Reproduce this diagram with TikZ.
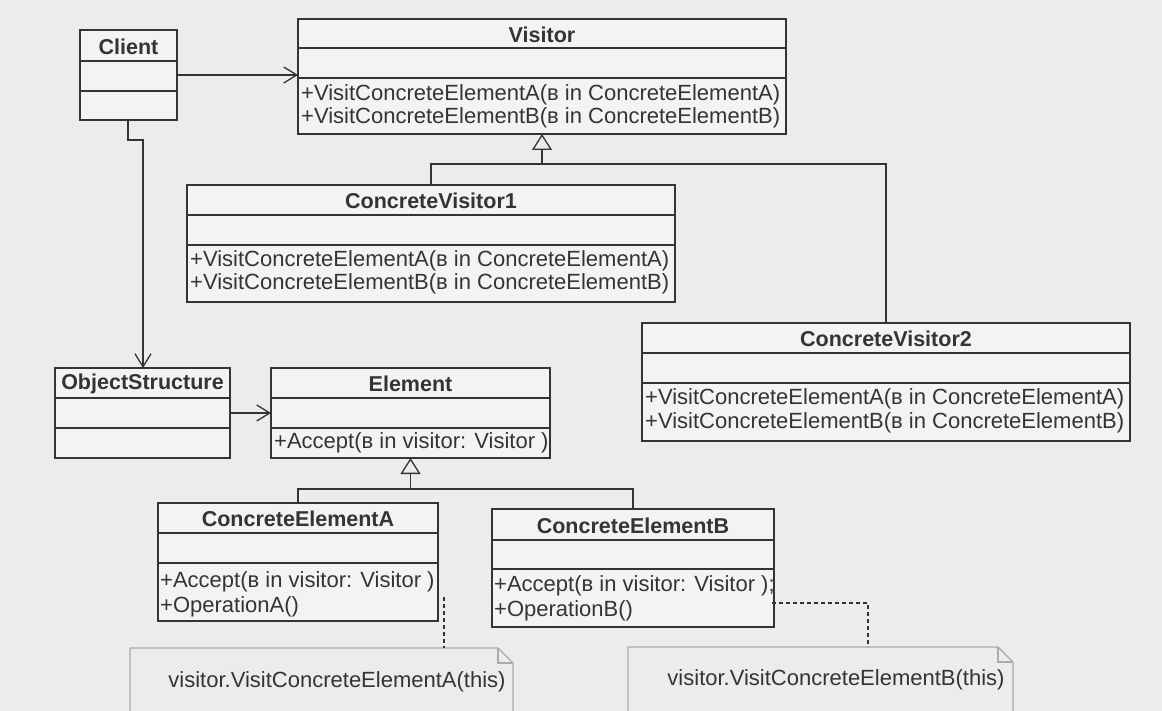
\documentclass[tikz,border=0pt]{standalone}
\usepackage{fontspec}
\setmainfont{Liberation Sans}
\usetikzlibrary{arrows.meta}
\definecolor{bg}{RGB}{236,236,236}
\definecolor{boxfill}{RGB}{243,243,243}
\definecolor{ink}{RGB}{52,52,52}
\definecolor{notegray}{RGB}{170,170,170}
\tikzset{
  clsbox/.style={draw=ink, fill=boxfill, line width=1.5pt, inner sep=0pt, outer sep=0pt},
  clsline/.style={draw=ink, line width=1.5pt},
  clstitle/.style={text=ink, inner sep=0pt, font=\fontsize{21.5}{25}\selectfont\bfseries},
  meth/.style={text=ink, inner sep=0pt, anchor=west, font=\fontsize{22}{26}\selectfont},
  notetext/.style={text=ink, inner sep=0pt, font=\fontsize{22}{26}\selectfont},
  assoc/.style={draw=ink, line width=1.3pt, -{Straight Barb[length=13pt,width=16pt,line width=1.3pt]}},
  gen/.style={draw=ink, line width=1.3pt, -{Triangle[open,length=16pt,width=20pt,line width=1.3pt]}},
  notelink/.style={draw=ink, line width=1.2pt, dash pattern=on 4pt off 3pt},
  noteline/.style={draw=notegray, line width=1.1pt},
  notebox/.style={inner sep=0pt, outer sep=0pt}
}
% #1 name, #2 left, #3 top, #4 right, #5 bottom, #6 first divider y, #7 second divider y, #8 title
\newcommand{\UMLbox}[8]{%
  \node[clsbox, minimum width={(#4)-(#2)}, minimum height={(#5)-(#3)}, anchor=north west] (#1) at (#2,#3) {};
  \draw[clsline] (#1.west |- 0,#6) -- (#1.east |- 0,#6);
  \draw[clsline] (#1.west |- 0,#7) -- (#1.east |- 0,#7);
  \node[clstitle] (#1-title) at ({(#2+#4)/2},{(#3+#6)/2+1}) {#8};
}
\begin{document}
\begin{tikzpicture}[x=1pt,y=-1pt]
\useasboundingbox (0,0) rectangle (1162,711);
\fill[bg] (0,0) rectangle (1162,711);

% classes
\UMLbox{client}{80}{30}{177}{120}{61}{91}{Client}
\UMLbox{visitor}{298}{19}{786}{134}{48}{78}{Visitor}
\node[meth] (visitor-m1) at (301,95) {+VisitConcreteElementA(в in ConcreteElementA)};
\node[meth] (visitor-m2) at (301,118) {+VisitConcreteElementB(в in ConcreteElementB)};

\UMLbox{cv1}{187}{185}{675}{302}{215}{245}{ConcreteVisitor1}
\node[meth] (cv1-m1) at (190,261) {+VisitConcreteElementA(в in ConcreteElementA)};
\node[meth] (cv1-m2) at (190,284) {+VisitConcreteElementB(в in ConcreteElementB)};

\UMLbox{cv2}{642}{323}{1130}{441}{353}{383}{ConcreteVisitor2}
\node[meth] (cv2-m1) at (645,399) {+VisitConcreteElementA(в in ConcreteElementA)};
\node[meth] (cv2-m2) at (645,423) {+VisitConcreteElementB(в in ConcreteElementB)};

\UMLbox{objs}{55}{368}{230}{458}{398}{428}{ObjectStructure}

\UMLbox{element}{271}{368}{550}{458}{398}{428}{Element}
\node[meth] (element-m1) at (274,443) {+Accept(в in visitor: Visitor )};

\UMLbox{cea}{158}{503}{438}{621}{533}{563}{ConcreteElementA}
\node[meth] (cea-m1) at (160,582) {+Accept(в in visitor: Visitor )};
\node[meth] (cea-m2) at (160,607) {+OperationA()};

\UMLbox{ceb}{492}{509}{774}{627}{540}{569}{ConcreteElementB}
\node[meth] (ceb-m1) at (494,586) {+Accept(в in visitor: Visitor );};
\node[meth] (ceb-m2) at (494,611) {+OperationB()};

% associations
\draw[assoc] (client.east) -- (visitor.west |- client.east);
\draw[assoc] (objs.east) -- (element.west |- objs.east);
\coordinate (clientdrop) at (128,120);
\draw[assoc] (clientdrop) -- ++(0,20) -| (objs.north -| 143,0);

% generalizations
\draw[clsline] (cv1.north) |- (cv2.north |- 0,164) -- (cv2.north);
\draw[gen] (visitor.south |- 0,164) -- (visitor.south);
\draw[clsline] (cea.north) |- (ceb.north |- 0,489) -- (ceb.north);
\draw[gen] (element.south |- 0,489) -- (element.south);

% notes
\node[notebox, minimum width=383, minimum height=80, anchor=north west] (noteA) at (130,648) {};
\draw[noteline] (noteA.south west) -- (noteA.north west) -- ([xshift=-15pt]noteA.north east) -- ([yshift=-15pt]noteA.north east) -- (noteA.south east);
\draw[noteline] ([xshift=-15pt]noteA.north east) |- ([yshift=-15pt]noteA.north east);
\node[notetext] (noteA-text) at (337,682) {visitor.VisitConcreteElementA(this)};

\node[notebox, minimum width=385, minimum height=80, anchor=north west] (noteB) at (628,647) {};
\draw[noteline] (noteB.south west) -- (noteB.north west) -- ([xshift=-15pt]noteB.north east) -- ([yshift=-15pt]noteB.north east) -- (noteB.south east);
\draw[noteline] ([xshift=-15pt]noteB.north east) |- ([yshift=-15pt]noteB.north east);
\node[notetext] (noteB-text) at (836,680) {visitor.VisitConcreteElementB(this)};

% note links
\coordinate (ancA) at (444,597);
\draw[notelink] (ancA) -- (ancA |- noteA.north);
\coordinate (ancB) at (772,603);
\draw[notelink] (ancB) -| (noteB.north -| 868,0);
\end{tikzpicture}
\end{document}
